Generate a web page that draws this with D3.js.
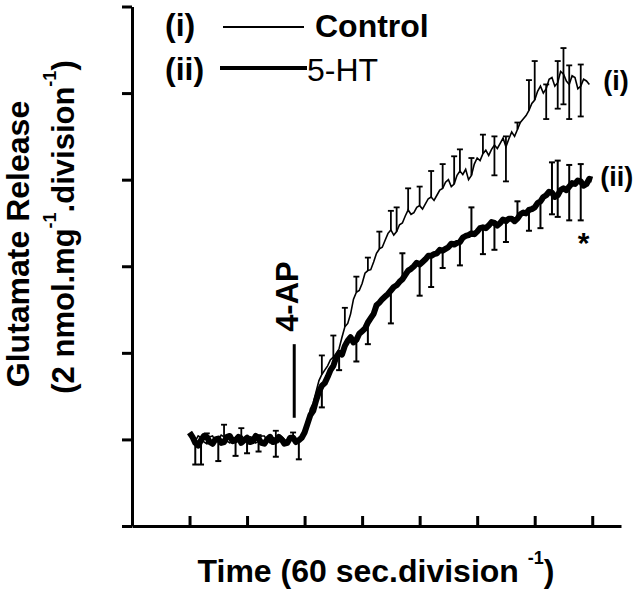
<!DOCTYPE html>
<html>
<head>
<meta charset="utf-8">
<script src="https://cdn.jsdelivr.net/npm/d3@7"></script>
<style>
  html, body { margin: 0; padding: 0; background: #fff; }
  svg { display: block; }
  text { font-family: "Liberation Sans", Arial, sans-serif; fill: #000; }
</style>
</head>
<body>
<svg id="chart" width="640" height="590"></svg>
<script>
// ---- data: [time (divisions of 60 s), release (divisions of 2 nmol/mg)] ----
const controlSeries = [
  [1.00,1.06],[1.05,1.02],[1.10,0.98],[1.15,1.04],[1.20,1.02],[1.25,0.97],[1.30,0.95],[1.35,1.03],[1.40,1.04],[1.45,0.98],
  [1.50,0.99],[1.55,1.05],[1.60,1.03],[1.65,0.98],[1.70,0.96],[1.75,1.02],[1.80,1.01],[1.85,0.97],[1.90,1.05],[1.95,1.00],
  [2.00,0.97],[2.05,1.03],[2.10,1.02],[2.15,0.96],[2.20,0.98],[2.25,1.04],[2.30,1.04],[2.35,0.99],[2.40,0.96],[2.45,1.02],
  [2.50,1.01],[2.55,0.97],[2.60,1.03],[2.65,1.00],[2.70,0.97],[2.75,1.03],[2.80,1.02],[2.85,0.98],[2.90,1.00],[2.95,1.03],
  [3.00,1.10],[3.05,1.20],[3.10,1.35],[3.15,1.42],[3.20,1.55],[3.25,1.68],[3.30,1.75],[3.35,1.80],[3.40,1.85],[3.45,1.92],
  [3.50,1.95],[3.55,1.98],[3.60,2.05],[3.65,2.18],[3.70,2.30],[3.75,2.34],[3.80,2.45],[3.85,2.62],[3.90,2.70],[3.95,2.72],
  [4.00,2.80],[4.05,2.92],[4.10,2.95],[4.15,2.96],[4.20,3.05],[4.25,3.15],[4.30,3.20],[4.35,3.22],[4.40,3.30],[4.45,3.38],
  [4.50,3.42],[4.55,3.36],[4.60,3.40],[4.65,3.48],[4.70,3.50],[4.75,3.58],[4.80,3.65],[4.85,3.60],[4.90,3.62],[4.95,3.68],
  [5.00,3.70],[5.05,3.66],[5.10,3.72],[5.15,3.78],[5.20,3.80],[5.25,3.76],[5.30,3.82],[5.35,3.88],[5.40,3.90],[5.45,3.97],
  [5.50,4.00],[5.55,3.92],[5.60,3.95],[5.65,4.05],[5.70,4.10],[5.75,4.06],[5.80,4.12],[5.85,4.00],[5.90,4.05],[5.95,4.18],
  [6.00,4.25],[6.05,4.22],[6.10,4.30],[6.15,4.34],[6.20,4.28],[6.25,4.35],[6.30,4.40],[6.35,4.36],[6.40,4.42],[6.45,4.48],
  [6.50,4.38],[6.55,4.47],[6.60,4.55],[6.65,4.50],[6.70,4.58],[6.75,4.66],[6.80,4.70],[6.85,4.74],[6.90,4.80],[6.95,4.88],
  [7.00,4.92],[7.05,5.02],[7.10,5.08],[7.15,5.00],[7.20,5.05],[7.25,5.16],[7.30,5.18],[7.35,5.08],[7.40,5.12],[7.45,5.25],
  [7.50,5.22],[7.55,5.14],[7.60,5.10],[7.65,5.20],[7.70,5.18],[7.75,5.05],[7.80,5.08],[7.85,5.16],[7.90,5.14],[7.95,5.10]
];

const htSeries = [
  [1.00,1.08],[1.05,1.03],[1.10,0.96],[1.15,0.93],[1.20,0.99],[1.25,1.04],[1.30,1.03],[1.35,0.97],[1.40,0.95],[1.45,1.00],
  [1.50,1.01],[1.55,0.96],[1.60,0.97],[1.65,1.03],[1.70,1.04],[1.75,0.98],[1.80,0.99],[1.85,1.03],[1.90,0.96],[1.95,0.99],
  [2.00,1.02],[2.05,0.97],[2.10,0.98],[2.15,1.04],[2.20,1.01],[2.25,0.96],[2.30,0.95],[2.35,1.00],[2.40,1.03],[2.45,0.97],
  [2.50,0.98],[2.55,1.03],[2.60,1.00],[2.65,0.95],[2.70,0.96],[2.75,1.02],[2.80,1.02],[2.85,0.97],[2.90,0.99],[2.95,1.02],
  [3.00,1.08],[3.05,1.18],[3.10,1.28],[3.15,1.33],[3.20,1.45],[3.25,1.55],[3.30,1.62],[3.35,1.65],[3.40,1.72],[3.45,1.80],
  [3.50,1.85],[3.55,1.95],[3.60,2.00],[3.65,1.98],[3.70,2.08],[3.75,2.14],[3.80,2.18],[3.85,2.12],[3.90,2.15],[3.95,2.22],
  [4.00,2.25],[4.05,2.28],[4.10,2.35],[4.15,2.40],[4.20,2.45],[4.25,2.55],[4.30,2.58],[4.35,2.62],[4.40,2.65],[4.45,2.68],
  [4.50,2.72],[4.55,2.76],[4.60,2.78],[4.65,2.82],[4.70,2.85],[4.75,2.90],[4.80,2.95],[4.85,2.97],[4.90,3.00],[4.95,3.04],
  [5.00,3.02],[5.05,3.05],[5.10,3.08],[5.15,3.12],[5.20,3.12],[5.25,3.14],[5.30,3.15],[5.35,3.19],[5.40,3.18],[5.45,3.20],
  [5.50,3.22],[5.55,3.26],[5.60,3.25],[5.65,3.27],[5.70,3.28],[5.75,3.33],[5.80,3.35],[5.85,3.36],[5.90,3.38],[5.95,3.37],
  [6.00,3.40],[6.05,3.44],[6.10,3.45],[6.15,3.44],[6.20,3.47],[6.25,3.51],[6.30,3.50],[6.35,3.47],[6.40,3.50],[6.45,3.54],
  [6.50,3.52],[6.55,3.55],[6.60,3.55],[6.65,3.52],[6.70,3.55],[6.75,3.60],[6.80,3.62],[6.85,3.61],[6.90,3.65],[6.95,3.66],
  [7.00,3.68],[7.05,3.73],[7.10,3.75],[7.15,3.80],[7.20,3.82],[7.25,3.86],[7.30,3.85],[7.35,3.80],[7.40,3.82],[7.45,3.88],
  [7.50,3.90],[7.55,3.88],[7.60,3.92],[7.65,3.96],[7.70,3.95],[7.75,3.99],[7.80,3.98],[7.85,3.93],[7.90,3.95],[7.95,4.01],
  [8.00,4.00]
];

// error bars: time, extent above and below the trace
const ctlBarT  = [1.3,1.6,1.9,2.2,2.5,2.8,3.3,3.5,3.7,3.9,4.1,4.3,4.5,4.6,4.8,5.0,5.2,5.4,5.6,5.7,5.9,6.1,6.3,6.5,6.7,6.9,7.0,7.2,7.4,7.5,7.6,7.8];
const ctlBarUp = [0.12,0.14,0.08,0.07,0.09,0.06,0.22,0.25,0.22,0.18,0.15,0.20,0.22,0.28,0.25,0.22,0.30,0.28,0.32,0.25,0.20,0.22,0.10,0.12,0.08,0.35,0.45,0.05,0.25,0.30,0.22,0.25];
const ctlBarDn = [0,0,0,0,0,0,0,0,0,0,0,0,0,0,0,0,0,0,0,0,0,0,0.35,0.40,0,0,0,0.35,0.30,0.35,0.40,0.35];

const htBarT  = [1.1,1.2,1.5,1.8,2.0,2.2,2.5,2.9,3.3,3.6,3.9,4.1,4.5,4.7,5.0,5.2,5.4,5.7,5.9,6.1,6.3,6.5,6.7,6.9,7.1,7.3,7.4,7.6,7.8];
const htBarUp = [0,0,0,0,0,0,0,0,0,0,0,0,0,0.30,0,0,0,0,0.30,0,0,0,0.20,0,0,0.35,0.40,0.25,0.20];
const htBarDn = [0.25,0.28,0.26,0.18,0.18,0.15,0.18,0.22,0.25,0.20,0.25,0.25,0.38,0,0.36,0.36,0.20,0.27,0,0.31,0.31,0.24,0,0.24,0.31,0.25,0.25,0.39,0.45];

const xTicks = [1,2,3,4,5,6,7,8];
const yTicks = [0,1,2,3,4,5,6];
const drugTime = 2.82;          // 4-AP addition
const drugMark = [1.25, 2.1];   // vertical extent of the marker (y units)
const seriesNames = ["Control", "5-HT"];
const seriesTags = ["(i)", "(ii)"];

// ---- drawing ----
const svg = d3.select("#chart");
const x = d3.scaleLinear().domain([0, 8.5]).range([132, 621]);
const y = d3.scaleLinear().domain([0, 6]).range([526, 6.5]);

const yAxis = svg.append("g").attr("transform", `translate(${x(0)},0)`)
  .call(d3.axisLeft(y).tickValues(yTicks).tickSize(10).tickSizeOuter(0).tickFormat(""));
const xAxis = svg.append("g").attr("transform", `translate(0,${y(0)})`)
  .call(d3.axisBottom(x).tickValues(xTicks).tickSize(-10).tickSizeOuter(0).tickFormat(""));
[yAxis, xAxis].forEach(a => {
  a.selectAll("path, line").attr("stroke", "#000").attr("stroke-width", 3);
});

const ctl = controlSeries.map(([t, v]) => ({t, v}));
const ht = htSeries.map(([t, v]) => ({t, v}));
const line = d3.line().x(d => x(d.t)).y(d => y(d.v));

function drawBars(data, bt, up, dn, w) {
  const lookup = new Map(data.map(d => [d.t.toFixed(2), d.v]));
  const g = svg.append("g").attr("stroke", "#000").attr("stroke-width", w);
  bt.forEach((t, i) => {
    const v = lookup.get(t.toFixed(2));
    if (v === undefined) return;
    const top = v + up[i], bot = v - dn[i];
    g.append("line").attr("x1", x(t)).attr("x2", x(t)).attr("y1", y(top)).attr("y2", y(bot));
    if (up[i] > 0) g.append("line").attr("x1", x(t) - 3).attr("x2", x(t) + 3).attr("y1", y(top)).attr("y2", y(top));
    if (dn[i] > 0) g.append("line").attr("x1", x(t) - 3).attr("x2", x(t) + 3).attr("y1", y(bot)).attr("y2", y(bot));
  });
}

drawBars(ht, htBarT, htBarUp, htBarDn, 2);
drawBars(ctl, ctlBarT, ctlBarUp, ctlBarDn, 1.8);

svg.append("path").datum(ht).attr("d", line)
  .attr("fill", "none").attr("stroke", "#000").attr("stroke-width", 6).attr("stroke-linejoin", "round");
svg.append("path").datum(ctl).attr("d", line)
  .attr("fill", "none").attr("stroke", "#000").attr("stroke-width", 1.6);

// 4-AP marker
svg.append("line")
  .attr("x1", x(drugTime)).attr("x2", x(drugTime))
  .attr("y1", y(drugMark[0])).attr("y2", y(drugMark[1]))
  .attr("stroke", "#000").attr("stroke-width", 3);
svg.append("text")
  .attr("transform", `translate(${x(drugTime) + 4},${y(2.65)}) rotate(-90)`)
  .attr("text-anchor", "middle").attr("font-size", 31).attr("font-weight", "bold")
  .text("4-AP");

// right-hand series tags
const lastC = ctl[ctl.length - 1], lastH = ht[ht.length - 1];
svg.append("text").attr("x", x(lastC.t) + 14).attr("y", y(lastC.v) + 6)
  .attr("font-size", 27).attr("font-weight", "bold").text(seriesTags[0]);
svg.append("text").attr("x", x(lastH.t) + 8).attr("y", y(lastH.v) + 6)
  .attr("font-size", 27).attr("font-weight", "bold").text(seriesTags[1]);
svg.append("text").attr("x", x(7.85)).attr("y", y(3.15))
  .attr("text-anchor", "middle").attr("font-size", 30).attr("font-weight", "bold").text("*");

// legend
svg.append("text").attr("x", 165).attr("y", 36).attr("font-size", 32).attr("font-weight", "bold").text(seriesTags[0]);
svg.append("line").attr("x1", 223).attr("x2", 304).attr("y1", 27).attr("y2", 27).attr("stroke", "#000").attr("stroke-width", 2);
svg.append("text").attr("x", 315).attr("y", 37).attr("font-size", 32).attr("font-weight", "bold").text(seriesNames[0]);
svg.append("text").attr("x", 165).attr("y", 80).attr("font-size", 32).attr("font-weight", "bold").text(seriesTags[1]);
svg.append("line").attr("x1", 220).attr("x2", 307).attr("y1", 68).attr("y2", 68).attr("stroke", "#000").attr("stroke-width", 4);
svg.append("text").attr("x", 307).attr("y", 81).attr("font-size", 32).attr("font-weight", "normal").text(seriesNames[1]);

// x-axis title
const xt = svg.append("text").attr("x", 376).attr("y", 582).attr("text-anchor", "middle")
  .attr("font-size", 32).attr("font-weight", "bold");
xt.append("tspan").text("Time (60 sec.division ");
xt.append("tspan").attr("font-size", 18).attr("dy", -18).text("-1");
xt.append("tspan").attr("dy", 18).text(")");

// y-axis title
svg.append("text").attr("transform", "translate(29,244) rotate(-90)")
  .attr("text-anchor", "middle").attr("font-size", 32).attr("font-weight", "bold")
  .text("Glutamate Release");
const yt = svg.append("text").attr("transform", "translate(74,227) rotate(-90)")
  .attr("text-anchor", "middle").attr("font-size", 31).attr("font-weight", "bold");
yt.append("tspan").text("(2 nmol.mg");
yt.append("tspan").attr("font-size", 18).attr("dy", -18).text("-1");
yt.append("tspan").attr("dy", 18).text(".division");
yt.append("tspan").attr("font-size", 18).attr("dy", -18).text("-1");
yt.append("tspan").attr("dy", 18).text(")");
</script>
</body>
</html>
